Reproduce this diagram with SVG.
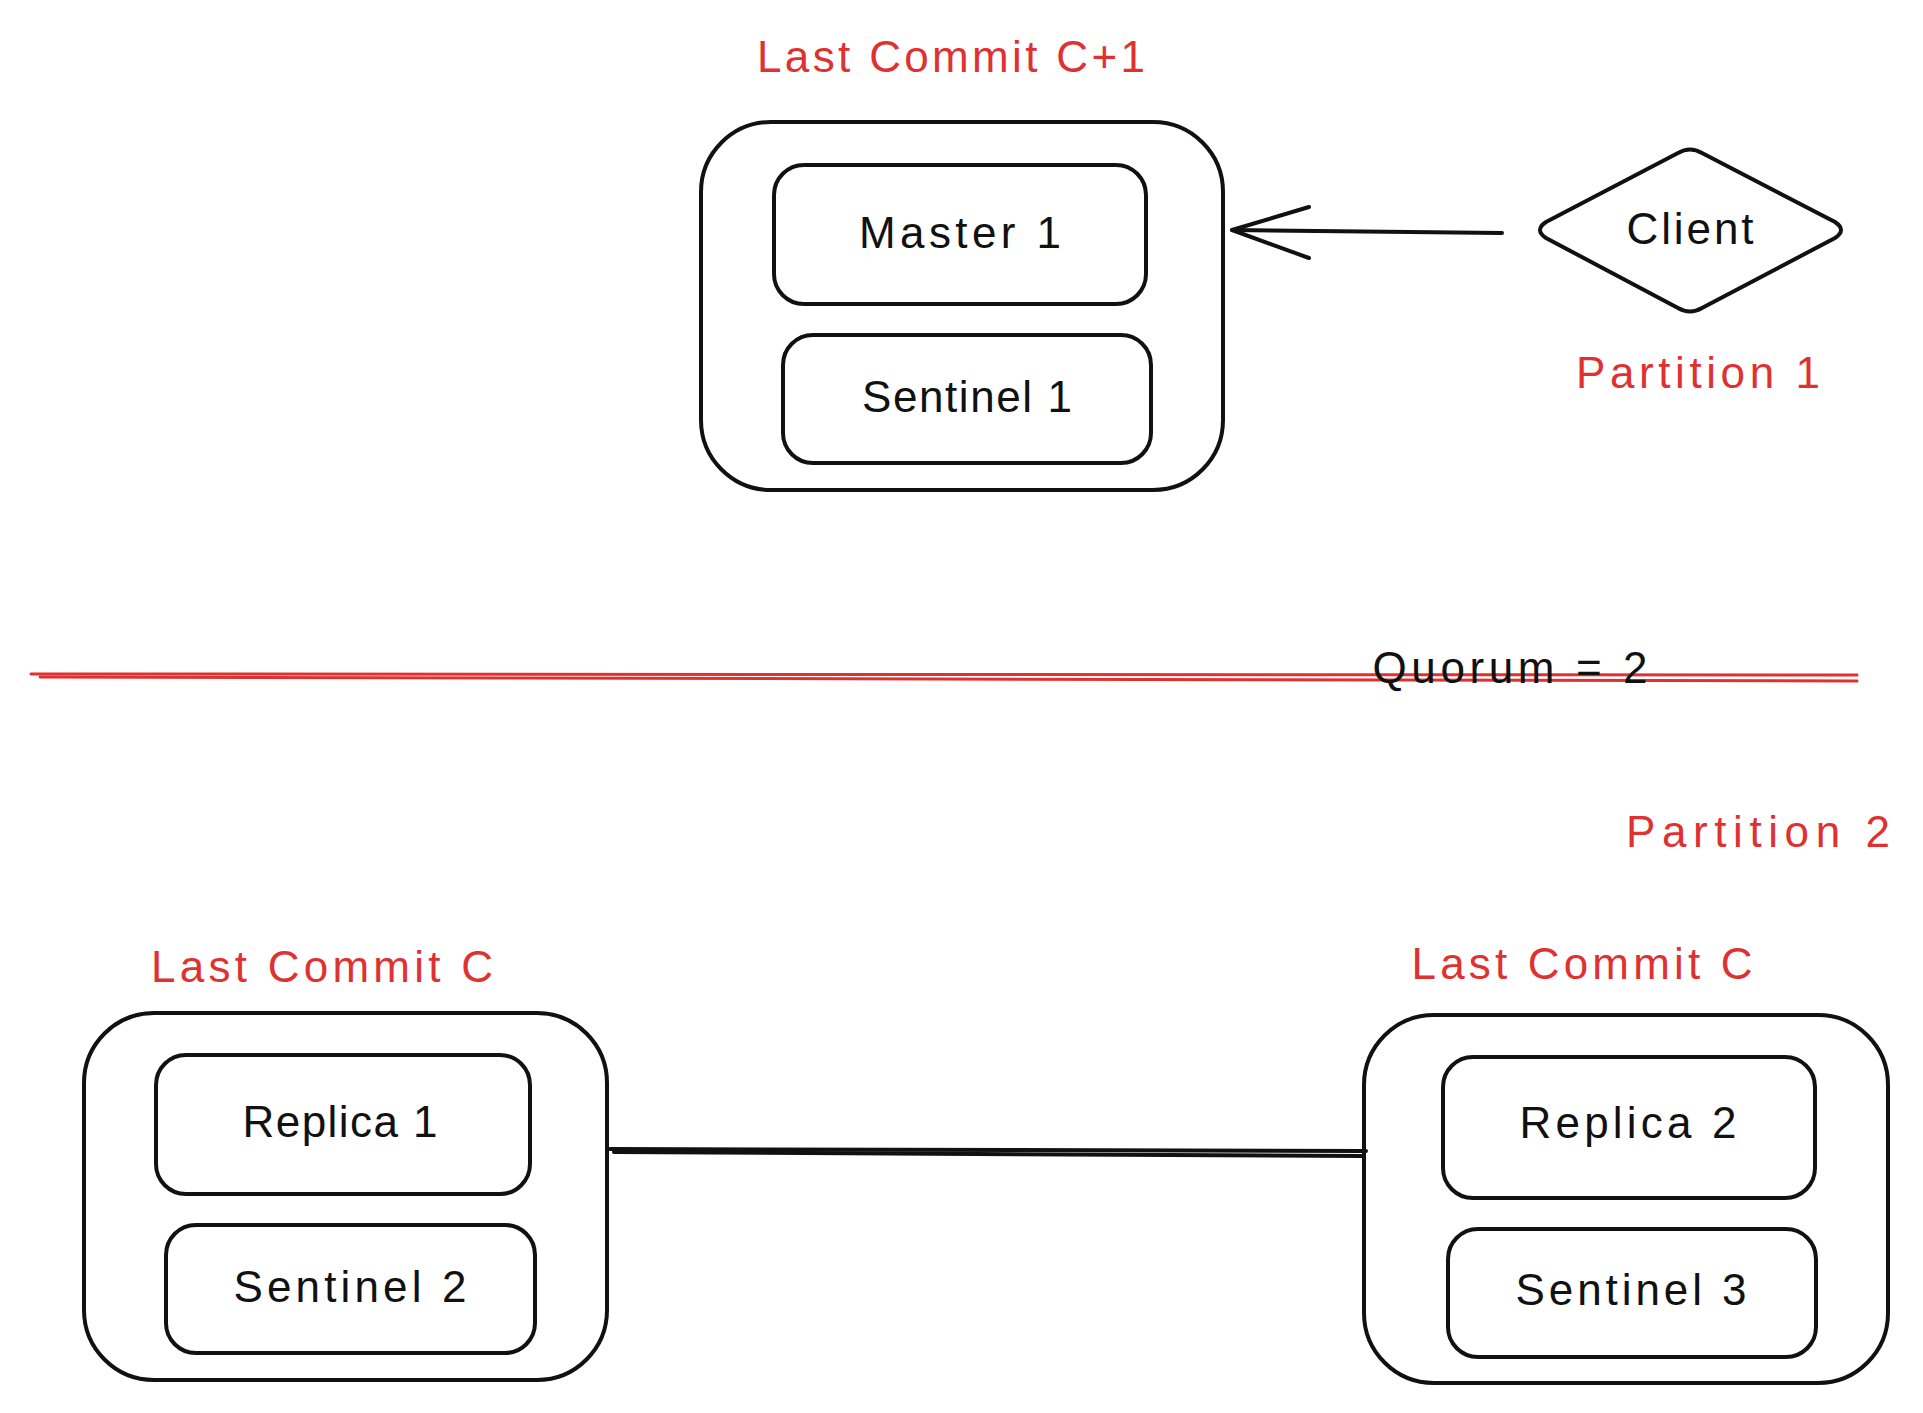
<svg xmlns="http://www.w3.org/2000/svg" width="1923" height="1413" viewBox="0 0 1923 1413">
<style>
.box{fill:none;stroke:#111111;stroke-width:4}
.conn{fill:none;stroke:#111111;stroke-width:4;stroke-linecap:round;stroke-linejoin:round}
.sep{fill:none;stroke:#e03131;stroke-width:3;stroke-linecap:round}
.t{font-family:"Liberation Sans",Arial,sans-serif;font-size:44px;fill:#111111;text-anchor:middle}
.r{fill:#e03131}
</style>
<rect width="1923" height="1413" fill="#ffffff"/>

<g id="connectors">
  <path class="conn" d="M1502 233 L1232 230"/>
  <path class="conn" d="M1309 207 L1232 230 L1309 258"/>
  <path class="conn" d="M610 1149 L1366 1151"/>
  <path class="conn" d="M614 1152 L1363 1156" stroke-width="2"/>
</g>

<g id="separator">
  <path class="sep" d="M31 674 L1857 675"/>
  <path class="sep" d="M40 677 L1857 681"/>
</g>

<g id="node-master-group">
  <rect class="box" x="701" y="122" width="522" height="368" rx="70" ry="70"/>
  <text class="t r" x="951" y="72" textLength="388" lengthAdjust="spacing">Last Commit C+1</text>
</g>
<g id="node-master1">
  <rect class="box" x="774" y="165" width="372" height="139" rx="30" ry="30"/>
  <text class="t" x="960" y="248" textLength="202" lengthAdjust="spacing">Master 1</text>
</g>
<g id="node-sentinel1">
  <rect class="box" x="783" y="335" width="368" height="128" rx="30" ry="30"/>
  <text class="t" x="967" y="412" textLength="210" lengthAdjust="spacing">Sentinel 1</text>
</g>

<g id="node-client">
  <path class="box" d="M1546 222 L1678 153 Q1690 146 1702 153 L1835 222 Q1847 230 1835 238 L1702 308 Q1690 315 1678 308 L1546 238 Q1534 230 1546 222 Z"/>
  <text class="t" x="1690" y="244" textLength="127" lengthAdjust="spacing">Client</text>
</g>

<g id="label-partition1">
  <text class="t r" x="1698" y="388" textLength="244" lengthAdjust="spacing">Partition 1</text>
</g>
<g id="label-quorum">
  <text class="t" x="1510" y="683" textLength="275" lengthAdjust="spacing">Quorum = 2</text>
</g>
<g id="label-partition2">
  <text class="t r" x="1758" y="847" textLength="264" lengthAdjust="spacing">Partition 2</text>
</g>

<g id="node-left-group">
  <rect class="box" x="84" y="1013" width="523" height="367" rx="70" ry="70"/>
  <text class="t r" x="322" y="982" textLength="342" lengthAdjust="spacing">Last Commit C</text>
</g>
<g id="node-replica1">
  <rect class="box" x="156" y="1055" width="374" height="139" rx="30" ry="30"/>
  <text class="t" x="340" y="1137" textLength="195" lengthAdjust="spacing">Replica 1</text>
</g>
<g id="node-sentinel2">
  <rect class="box" x="166" y="1225" width="369" height="128" rx="30" ry="30"/>
  <text class="t" x="350" y="1302" textLength="233" lengthAdjust="spacing">Sentinel 2</text>
</g>

<g id="node-right-group">
  <rect class="box" x="1364" y="1015" width="524" height="368" rx="70" ry="70"/>
  <text class="t r" x="1582" y="979" textLength="341" lengthAdjust="spacing">Last Commit C</text>
</g>
<g id="node-replica2">
  <rect class="box" x="1443" y="1057" width="372" height="141" rx="30" ry="30"/>
  <text class="t" x="1628" y="1138" textLength="217" lengthAdjust="spacing">Replica 2</text>
</g>
<g id="node-sentinel3">
  <rect class="box" x="1448" y="1229" width="368" height="128" rx="30" ry="30"/>
  <text class="t" x="1631" y="1305" textLength="231" lengthAdjust="spacing">Sentinel 3</text>
</g>
</svg>
